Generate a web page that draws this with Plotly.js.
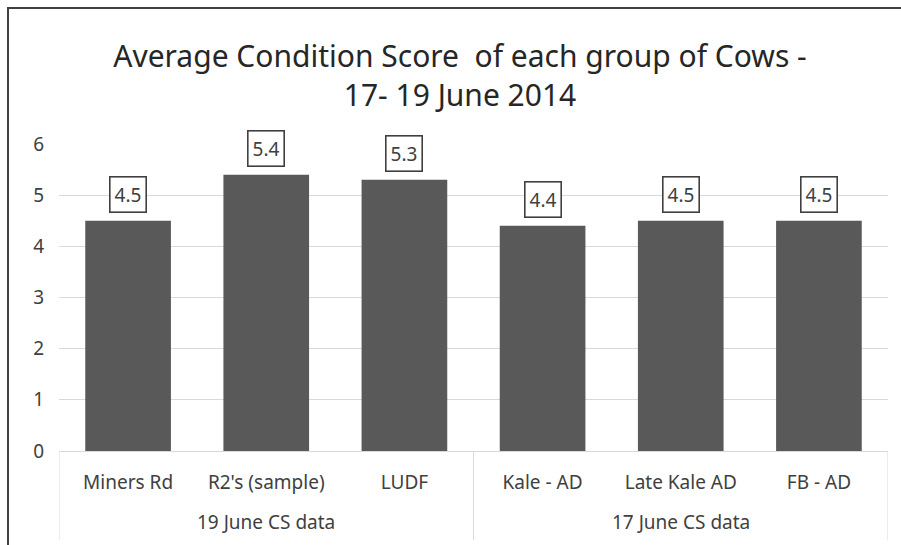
<!DOCTYPE html>
<html>
<head>
<meta charset="utf-8">
<script src="https://cdn.plot.ly/plotly-3.0.1.min.js"></script>
<style>html,body{margin:0;padding:0;background:#fff;}#chart{width:901px;height:545px;}</style>
</head>
<body>
<div id="chart"></div>
<script>
const groups = ["19 June CS data","19 June CS data","19 June CS data","17 June CS data","17 June CS data","17 June CS data"];
const categories = ["Miners Rd","R2's (sample)","LUDF","Kale - AD","Late Kale AD","FB - AD"];
const scores = [4.5, 5.4, 5.3, 4.4, 4.5, 4.5];
const yTicks = [0,1,2,3,4,5,6];

const FONT = '"Noto Sans", "Open Sans", sans-serif';
const TXT = '#404040';
const GRID = '#d9d9d9';

const trace = {
  type: 'bar',
  x: categories,
  y: scores,
  marker: {color: '#595959'},
  hoverinfo: 'skip'
};

// value labels in boxes
const annotations = scores.map((v, i) => ({
  xref: 'x2', yref: 'y',
  x: i, y: v,
  text: v.toFixed(1),
  showarrow: false,
  yanchor: 'bottom',
  yshift: 8,
  font: {family: FONT, size: 19, color: TXT},
  bgcolor: '#ffffff',
  bordercolor: TXT,
  borderwidth: 1.6,
  borderpad: 4
}));

// group spans from the groups array
const spans = [];
groups.forEach((g, i) => {
  const last = spans[spans.length - 1];
  if (last && last.name === g) last.end = i;
  else spans.push({name: g, start: i, end: i});
});

const PLOT_H = 307;
const shapes = [];
spans.forEach(s => {
  annotations.push({
    xref: 'x2', yref: 'paper',
    x: (s.start + s.end) / 2, y: -(522 - 451) / PLOT_H,
    text: s.name, showarrow: false, yanchor: 'middle',
    font: {family: FONT, size: 19, color: TXT}
  });
});
const bounds = [spans[0].start - 0.5].concat(spans.map(s => s.end + 0.5));
bounds.forEach(b => {
  shapes.push({
    type: 'line', xref: 'x2', yref: 'paper',
    x0: b, x1: b, y0: 0, y1: -(540 - 451) / PLOT_H,
    line: {color: GRID, width: 1}
  });
});
// outer chart border
shapes.push({
  type: 'rect', xref: 'paper', yref: 'paper',
  x0: (8 - 59) / 829, x1: (920 - 59) / 829,
  y0: (451 - 560) / PLOT_H, y1: (451 - 8) / PLOT_H,
  line: {color: '#404040', width: 2},
  fillcolor: 'rgba(0,0,0,0)', layer: 'below'
});

const layout = {
  width: 901, height: 545,
  margin: {l: 59, r: 13, t: 144, b: 94},
  paper_bgcolor: '#ffffff',
  plot_bgcolor: '#ffffff',
  showlegend: false,
  bargap: 0.38,
  title: {
    text: 'Average Condition Score  of each group of Cows -<br>17- 19 June 2014',
    font: {family: FONT, size: 30, color: '#262626'},
    x: 460 / 901, xanchor: 'center', xref: 'container',
    y: 1 - 67 / 545, yanchor: 'middle'
  },
  xaxis: {
    type: 'category',
    range: [-0.5, 5.5],
    showline: true, linecolor: GRID, linewidth: 1,
    showgrid: false,
    tickfont: {family: FONT, size: 19, color: TXT},
    ticks: '', ticklabelstandoff: 14
  },
  xaxis2: {
    overlaying: 'x', range: [-0.5, 5.5], visible: false, fixedrange: true
  },
  yaxis: {
    range: [0, 6],
    tickvals: yTicks,
    showgrid: true, gridcolor: GRID, gridwidth: 1,
    zeroline: false, showline: false,
    tickfont: {family: FONT, size: 19, color: TXT},
    ticks: '', ticklabelstandoff: 14
  },
  annotations: annotations,
  shapes: shapes
};

Plotly.newPlot('chart', [trace], layout, {displayModeBar: false, staticPlot: true});
</script>
</body>
</html>
